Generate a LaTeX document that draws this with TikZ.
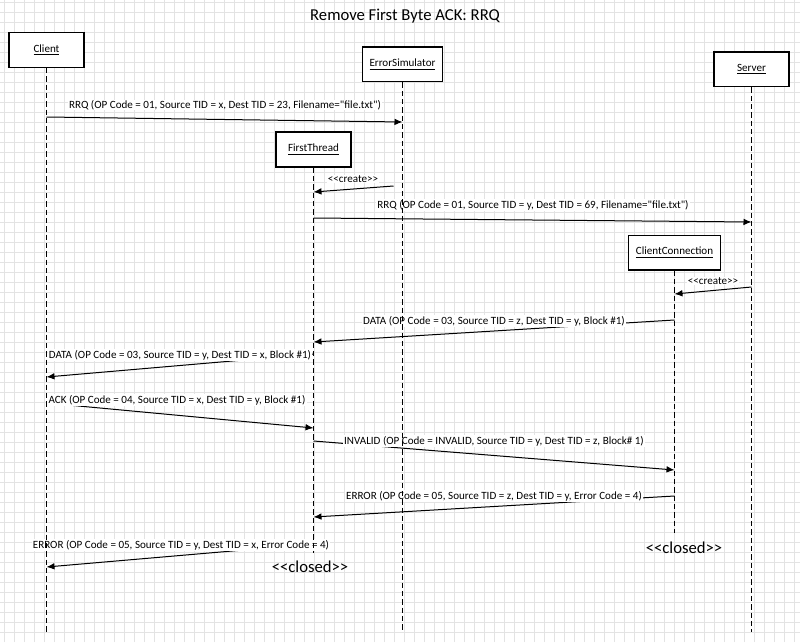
\documentclass[tikz,border=0pt]{standalone}
\usepackage{fontspec}
\setmainfont{Carlito}[Ligatures=TeXOff]
\usetikzlibrary{arrows.meta,calc}

\begin{document}
\begin{tikzpicture}[x=0.75pt, y=-0.75pt,
  object/.style   = { draw, line width=1pt, fill=white, minimum width=56.25pt,
                      minimum height=26pt, inner xsep=5.5pt,
                      font=\fontsize{8.3}{10}\selectfont },
  lifeline/.style = { line width=0.8pt, dash pattern=on 4pt off 2.25pt },
  msg/.style      = { line width=0.75pt, -{Latex[length=6pt,width=5pt]} },
  label/.style    = { font=\fontsize{8.3}{10}\selectfont, fill=white,
                      inner xsep=1pt, inner ysep=0.5pt },
  closed/.style   = { font=\fontsize{12.5}{15}\selectfont }]
  \useasboundingbox (0,0) rectangle (800,642);
  % grid
  \foreach \gx in {4.5,14.5,...,795}
    \draw [gray!22, line width=0.75pt] (\gx,0) -- (\gx,642);
  \foreach \gy in {2.5,12.5,...,642}
    \draw [gray!22, line width=0.75pt] (0,\gy) -- (800,\gy);

  \node (title) [closed] at (405,16) {Remove First Byte ACK: RRQ};

  % objects
  \node (client) [object] at (46.5,50)     {\underline{Client}};
  \node (errsim) [object] at (402.5,64.5)  {\underline{ErrorSimulator}};
  \node (first)  [object] at (313.5,149.5) {\underline{FirstThread}};
  \node (server) [object] at (751.5,69.5)  {\underline{Server}};
  \node (conn)   [object] at (674.5,252.5) {\underline{ClientConnection}};
  \coordinate (esc) at (393.5,186);

  % messages
  \foreach \from/\ya/\to/\yb in {client/117/errsim/122, esc/186/first/192,
      first/218/server/222, server/287/conn/294, conn/320/first/342,
      first/354/client/377, client/403/first/428, first/441/conn/470,
      conn/496/first/517, first/544/client/567}
    \draw [msg] (\from |- 0,\ya) -- (\to |- 0,\yb);

  \node (rrq1)    [label] at (225,105) {RRQ (OP Code = 01, Source TID = x, Dest TID = 23, Filename="file.txt")};
  \node (create1) [label] at (353,179) {<<create>>};
  \node (rrq2)    [label] at (533,205) {RRQ (OP Code = 01, Source TID = y, Dest TID = 69, Filename="file.txt")};
  \node (create2) [label] at (713,281) {<<create>>};
  \node (data1)   [label] at (494,321) {DATA (OP Code = 03, Source TID = z, Dest TID = y, Block \#1)};
  \node (data2)   [label] at (180,355) {DATA (OP Code = 03, Source TID = y, Dest TID = x, Block \#1)};
  \node (ack)     [label] at (177,400) {ACK (OP Code = 04, Source TID = x, Dest TID = y, Block \#1)};
  \node (invalid) [label] at (494,441) {INVALID (OP Code = INVALID, Source TID = y, Dest TID = z, Block\# 1)};
  \node (error1)  [label] at (494,496) {ERROR (OP Code = 05, Source TID = z, Dest TID = y, Error Code = 4)};
  \node (error2)  [label] at (181,545) {ERROR (OP Code = 05, Source TID = y, Dest TID = x, Error Code = 4)};

  % lifelines
  \foreach \obj/\yend in {client/632, errsim/632, first/553, server/632, conn/533}
    \draw [lifeline] (\obj.south) -- (\obj |- 0,\yend);

  \node (firstclosed) [closed] at (310,567) {<<closed>>};
  \node (connclosed)  [closed] at (684,548) {<<closed>>};
\end{tikzpicture}
\end{document}
